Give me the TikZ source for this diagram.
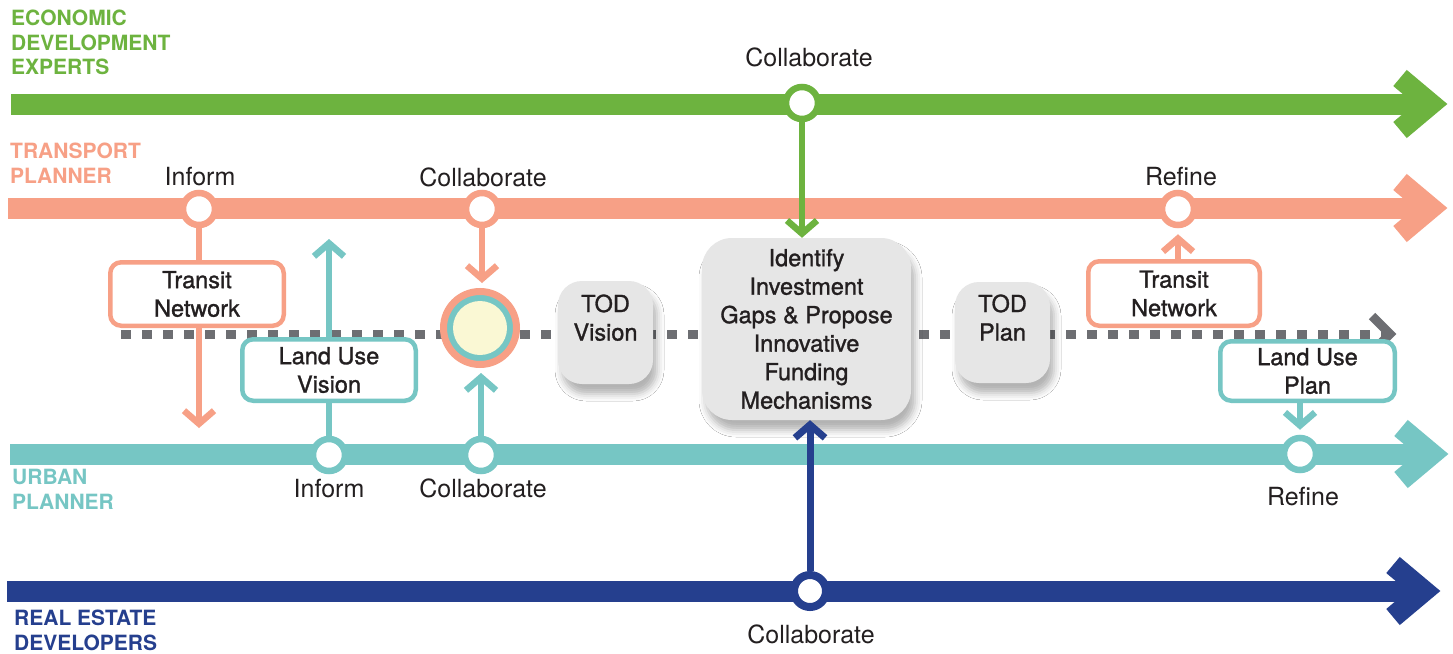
\documentclass[tikz,border=0pt]{standalone}
\usepackage{fontspec}
\usetikzlibrary{arrows.meta,shadows.blur}
\newfontfamily\hel{TeX Gyre Heros}
\newfontfamily\helmed{TeX Gyre Heros}[FakeBold=1.2]
\definecolor{cEco}{HTML}{6DB33F}
\definecolor{cTrans}{HTML}{F7A086}
\definecolor{cUrb}{HTML}{76C6C4}
\definecolor{cReal}{HTML}{253F8E}
\definecolor{cDot}{HTML}{6D6E72}
\definecolor{cBox}{HTML}{E6E6E6}
\definecolor{cCream}{HTML}{FAF8D4}
\definecolor{cText}{HTML}{231F20}
\begin{document}
\begin{tikzpicture}[x=1pt,y=-1pt,
  tl/.style={draw=#1, line width=21pt},
  station/.style={circle, draw=#1, fill=white, line width=6.5pt, minimum size=32pt, inner sep=0pt},
  lab/.style={font=\hel\fontsize{25}{28}\selectfont, text=cText, inner sep=0pt},
  role/.style={font=\hel\bfseries\fontsize{21}{24.5}\selectfont, text=#1, inner sep=0pt, align=left, anchor=north west},
  boxfont/.style={font=\helmed\fontsize{23.5}{28.5}\selectfont, text=cText},
  outbox/.style={draw=#1, fill=white, line width=4.5pt, rounded corners=11pt, inner sep=0pt, align=center, boxfont},
  greybox/.style={fill=cBox, rounded corners=24pt, inner sep=0pt, align=center, boxfont,
     blur shadow={shadow xshift=4pt, shadow yshift=-10pt, shadow blur radius=7pt, shadow opacity=30}},
  conn/.style={draw=#1, line width=6.5pt, -{Straight Barb[sharp, length=13pt, width=30pt]}},
  plainconn/.style={draw=#1, line width=6.5pt}
]
\useasboundingbox (0,0) rectangle (1453,653);
\fill[white] (0,0) rectangle (1453,653);

% dotted process line
\coordinate (dotS) at (121,334);
\coordinate (dotE) at (1385,334);
\coordinate (dotA) at (1390,334);
\draw[cDot, line width=9pt, dash pattern=on 10pt off 11pt] (dotS) -- (dotE);
\draw[cDot, line width=9pt, line join=miter] (1372,316) -- (dotA) -- (1372,352);

% timelines
\coordinate (ecoS) at (11,104);  \coordinate (ecoE) at (1431,104);
\draw[tl=cEco] (ecoS) -- (ecoE);
\draw[tl=cEco, line join=miter] (1400,78) -- (ecoE) -- (1400,130);

\coordinate (trS) at (8,208);  \coordinate (trE) at (1431,208);
\draw[tl=cTrans] (trS) -- (trE);
\draw[tl=cTrans, line join=miter] (1400,182) -- (trE) -- (1400,234);

\coordinate (urS) at (10,454);  \coordinate (urE) at (1432,454);
\draw[tl=cUrb] (urS) -- (urE);
\draw[tl=cUrb, line join=miter] (1401,428) -- (urE) -- (1401,480);

\coordinate (reS) at (7,591);  \coordinate (reE) at (1424,591);
\draw[tl=cReal] (reS) -- (reE);
\draw[tl=cReal, line join=miter] (1393,565) -- (reE) -- (1393,617);

% role labels
\node[role=cEco] (rEco) at (11,10) {ECONOMIC\\DEVELOPMENT\\EXPERTS};
\node[role=cTrans] (rTrans) at (10,143) {TRANSPORT\\PLANNER};
\node[role=cUrb] (rUrb) at (12,469) {URBAN\\PLANNER};
\node[role=cReal] (rReal) at (14,610) {REAL ESTATE\\DEVELOPERS};

% stations
\node[station=cEco] (ecoC) at (802,103) {};
\node[station=cTrans] (tInform) at (199,209) {};
\node[station=cTrans] (tCollab) at (482,209) {};
\node[station=cTrans] (tRefine) at (1178,209) {};
\node[station=cUrb] (uInform) at (329,455) {};
\node[station=cUrb] (uCollab) at (481,455) {};
\node[station=cUrb] (uRefine) at (1300,454) {};
\node[station=cReal, line width=8pt] (realC) at (810,591) {};

% station labels
\node[lab, anchor=base] (lEco) at (809,66) {Collaborate};
\node[lab, anchor=base] (lTInf) at (200,185) {Inform};
\node[lab, anchor=base] (lTCol) at (483,186) {Collaborate};
\node[lab, anchor=base] (lTRef) at (1181,185) {Refine};
\node[lab, anchor=base] (lUInf) at (329,497) {Inform};
\node[lab, anchor=base] (lUCol) at (483,497) {Collaborate};
\node[lab, anchor=base] (lURef) at (1303,505) {Refine};
\node[lab, anchor=base] (lReal) at (811,643) {Collaborate};

% hub
\node[circle, minimum size=73pt, inner sep=0pt, draw=cTrans, line width=7pt, fill=cUrb] (hub) at (480,328) {};
\node[circle, minimum size=54pt, inner sep=0pt, fill=cCream] (hubIn) at (hub.center) {};

% boxes
\node[outbox=cTrans, minimum width=173.5pt, minimum height=63.5pt] (tnL) at (197,294) {Transit\\Network};
\node[outbox=cUrb, minimum width=173.5pt, minimum height=61.5pt] (luv) at (329,370) {Land Use\\Vision};
\node[outbox=cTrans, minimum width=171.5pt, minimum height=64.5pt] (tnR) at (1174,293.5) {Transit\\Network};
\node[outbox=cUrb, minimum width=174.5pt, minimum height=59.5pt] (lup) at (1307.5,371) {Land Use\\Plan};
\node[greybox, text depth=30pt, minimum width=95pt, minimum height=103pt] (todV) at (605.5,332.5) {TOD\\Vision};
\node[greybox, rounded corners=30pt, minimum width=209pt, minimum height=182pt] (big) at (806.5,329) {Identify\\Investment\\Gaps \& Propose\\Innovative\\Funding\\Mechanisms};
\node[greybox, text depth=30pt, minimum width=95pt, minimum height=101pt] (todP) at (1002.5,332.5) {TOD\\Plan};

% connectors
\coordinate (tnTip) at (199,428);
\coordinate (luvTip) at (329,239);
\draw[plainconn=cTrans] (tInform.south) -- (tInform.south |- tnL.north);
\draw[conn=cTrans] (tInform.south |- tnL.south) -- (tnTip);
\draw[plainconn=cUrb] (uInform.north) -- (uInform.north |- luv.south);
\draw[conn=cUrb] (uInform.north |- luv.north) -- (luvTip);
\draw[conn=cTrans, shorten >=5pt] (tCollab.south) -- (tCollab.south |- hub.north);
\draw[conn=cUrb, shorten >=5pt] (uCollab.north) -- (uCollab.north |- hub.south);
\draw[conn=cEco] (ecoC.south) -- (ecoC.south |- big.north);
\draw[conn=cReal, line width=7pt] (realC.north) -- (realC.north |- big.south);
\draw[conn=cTrans, shorten >=6pt] (tRefine.south |- tnR.north) -- (tRefine.south);
\draw[conn=cUrb, shorten >=5pt] (uRefine.north |- lup.south) -- (uRefine.north);
\end{tikzpicture}
\end{document}
